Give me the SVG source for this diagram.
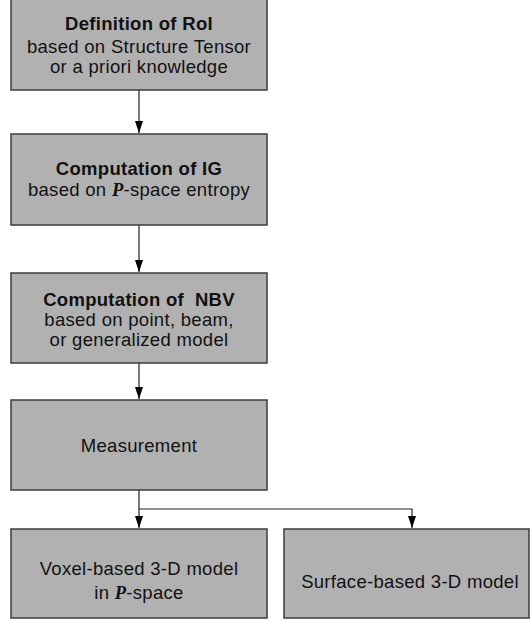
<svg xmlns="http://www.w3.org/2000/svg" width="530" height="622" viewBox="0 0 530 622">
  <defs>
    <marker id="arrow" viewBox="0 0 12 8" refX="12" refY="4" markerWidth="12" markerHeight="8" markerUnits="userSpaceOnUse" orient="auto">
      <path d="M0,0 L12,4 L0,8 Z" fill="#000"/>
    </marker>
    <style>
      .box { fill: #b1b1b1; stroke: #3c3c3c; stroke-width: 1.5; }
      .t { font-family: "Liberation Sans", Arial, sans-serif; font-size: 18.5px; letter-spacing: 0.3px; fill: #111; text-anchor: middle; }
      .b { font-weight: bold; }
      .p { font-family: "Liberation Serif", "Times New Roman", serif; font-weight: bold; font-style: italic; }
      .wire { fill: none; stroke: #222; stroke-width: 1.2; }
    </style>
  </defs>

  <!-- connectors -->
  <g id="connectors">
    <path class="wire" d="M139,90 V133" marker-end="url(#arrow)"/>
    <path class="wire" d="M139,225 V272" marker-end="url(#arrow)"/>
    <path class="wire" d="M139,363 V399" marker-end="url(#arrow)"/>
    <path class="wire" d="M139,490 V528" marker-end="url(#arrow)"/>
    <path class="wire" d="M139,509 H412 V528" marker-end="url(#arrow)"/>
  </g>

  <g id="roi">
    <rect class="box" x="11" y="-2" width="256" height="92"/>
    <text class="t b" x="139" y="30">Definition of RoI</text>
    <text class="t" x="139" y="53">based on Structure Tensor</text>
    <text class="t" x="139" y="73">or a priori knowledge</text>
  </g>

  <g id="ig">
    <rect class="box" x="11" y="134" width="256" height="91"/>
    <text class="t b" x="139" y="175">Computation of IG</text>
    <text class="t" x="139" y="196">based on <tspan class="p">P</tspan>-space entropy</text>
  </g>

  <g id="nbv">
    <rect class="box" x="11" y="273" width="256" height="90"/>
    <text class="t b" x="139" y="306" xml:space="preserve">Computation of  NBV</text>
    <text class="t" x="139" y="326">based on point, beam,</text>
    <text class="t" x="139" y="346">or generalized model</text>
  </g>

  <g id="measurement">
    <rect class="box" x="11" y="400" width="256" height="90"/>
    <text class="t" x="139" y="452">Measurement</text>
  </g>

  <g id="voxel">
    <rect class="box" x="11" y="529" width="256" height="89"/>
    <text class="t" x="139" y="575">Voxel-based 3-D model</text>
    <text class="t" x="139" y="599">in <tspan class="p">P</tspan>-space</text>
  </g>

  <g id="surface">
    <rect class="box" x="284" y="529" width="245" height="89"/>
    <text class="t" x="410" y="588">Surface-based 3-D model</text>
  </g>
</svg>
